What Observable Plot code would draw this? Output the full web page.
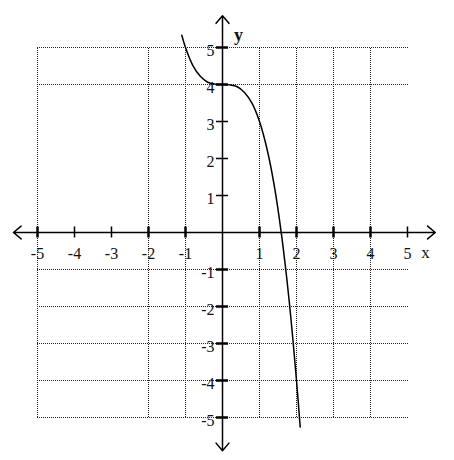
<!DOCTYPE html>
<html>
<head>
<meta charset="utf-8">
<script src="https://cdn.jsdelivr.net/npm/d3@7"></script>
<script src="https://cdn.jsdelivr.net/npm/@observablehq/plot@0.6"></script>
<style>
  html, body { margin: 0; padding: 0; background: #fff; }
</style>
</head>
<body>
<div id="chart"></div>
<script>
// Curve points
const curveX = [-1.1, -1.0, -0.8, -0.6, -0.4, -0.2, 0, 0.2, 0.4, 0.6, 0.8, 1.0, 1.2, 1.4, 1.6, 1.8, 2.0, 2.1];
const curveY = [5.33, 5.0, 4.51, 4.22, 4.06, 4.01, 4.0, 3.99, 3.94, 3.78, 3.49, 3.0, 2.27, 1.26, -0.1, -1.83, -4.0, -5.26];

// Tick labels
const xTicks = [-5, -4, -3, -2, -1, 1, 2, 3, 4, 5];
const yTicks = [-5, -4, -3, -2, -1, 1, 2, 3, 4, 5];

// Dotted grid lines present in the picture
const gridX = [-5, -2, -1, 1, 2, 3, 4];
const gridY = [5, 4, -1, -2, -3, -4, -5];

// Axis arrow ends
const axisXEnds = [-5.65, 5.75];
const axisYEnds = [-5.9, 5.86];

const curve = curveX.map((x, i) => ({x, y: curveY[i]}));
const tickLen = 5.5 / 37; // half tick length in data units
const font = "'Liberation Serif', 'Times New Roman', serif";

const chart = Plot.plot({
  width: 454,
  height: 460,
  marginLeft: 37,
  marginRight: 47,
  marginTop: 47,
  marginBottom: 43,
  x: {domain: [-5, 5], axis: null},
  y: {domain: [-5, 5], axis: null},
  style: {fontFamily: font, background: "#fff"},
  marks: [
    // dotted grid
    Plot.ruleX(gridX, {x: d => d, y1: -5, y2: 5, stroke: "#222", strokeWidth: 1, strokeDasharray: "1,1"}),
    Plot.ruleY(gridY, {y: d => d, x1: -5, x2: 5.05, stroke: "#222", strokeWidth: 1, strokeDasharray: "1,1"}),
    // axes with arrow heads
    Plot.arrow(axisXEnds, {x1: 0, y1: 0, x2: d => d, y2: 0, stroke: "#000", strokeWidth: 1.5, headLength: 10, headAngle: 80}),
    Plot.arrow(axisYEnds, {x1: 0, y1: 0, x2: 0, y2: d => d, stroke: "#000", strokeWidth: 1.5, headLength: 10, headAngle: 80}),
    // tick marks
    Plot.ruleX(xTicks, {x: d => d, y1: -tickLen, y2: tickLen, stroke: "#000", strokeWidth: d => gridX.includes(d) ? 2.5 : 1.5}),
    Plot.ruleY(yTicks, {y: d => d, x1: -tickLen * 1.1, x2: tickLen * 1.1, stroke: "#000", strokeWidth: d => gridY.includes(d) ? 2.5 : 1.5}),
    // tick labels
    Plot.text(xTicks, {x: d => d, y: 0, text: d => String(d), dy: 21, fontSize: 16, fill: "#111"}),
    Plot.text(yTicks, {x: 0, y: d => d, text: d => String(d), dx: -8, dy: 3, textAnchor: "end", fontSize: 16, fill: "#111"}),
    // axis names
    Plot.text(["x"], {x: 5, y: 0, text: d => d, dx: 18, dy: 20, fontSize: 17, fill: "#111"}),
    Plot.text(["y"], {x: 0, y: 5, text: d => d, dx: 16, dy: -12, fontSize: 18, fontWeight: "bold", fill: "#111"}),
    // the curve
    Plot.line(curve, {x: "x", y: "y", curve: "catmull-rom", stroke: "#000", strokeWidth: 1.5})
  ]
});
document.getElementById("chart").append(chart);
</script>
</body>
</html>
